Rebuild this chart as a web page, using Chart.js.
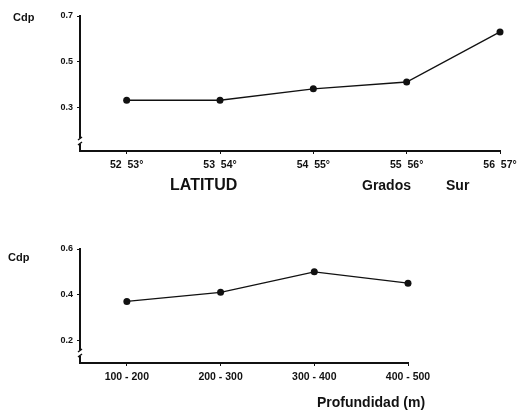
<!DOCTYPE html>
<html>
<head>
<meta charset="utf-8">
<script src="https://cdn.jsdelivr.net/npm/chart.js"></script>
<style>
  html, body { margin: 0; padding: 0; background: #fff; }
  #wrap { position: relative; width: 526px; height: 415px; }
  canvas { position: absolute; left: 0; }
</style>
</head>
<body>
<div id="wrap">
  <canvas id="latChart" width="526" height="200" style="top:0"></canvas>
  <canvas id="depthChart" width="526" height="215" style="top:200px"></canvas>
</div>
<script>
// datos
const latLabels = ['52  53°', '53  54°', '54  55°', '55  56°', '56  57°'];
const latCdp = [0.33, 0.33, 0.38, 0.41, 0.63];
const latTicksY = [0.3, 0.5, 0.7];

const depthLabels = ['100 - 200', '200 - 300', '300 - 400', '400 - 500'];
const depthCdp = [0.37, 0.41, 0.50, 0.45];
const depthTicksY = [0.2, 0.4, 0.6];

const FONT = "'Liberation Sans', Arial, sans-serif";

// textos sueltos + el corte del eje y
const extrasPlugin = {
  id: 'extras',
  afterDraw(chart, args, opts) {
    const ctx = chart.ctx;
    const a = chart.chartArea;
    ctx.save();
    // corte del eje
    ctx.fillStyle = '#fff';
    ctx.fillRect(a.left - 3, a.bottom - 13, 6, 6);
    ctx.strokeStyle = '#111';
    ctx.lineWidth = 1.5;
    ctx.beginPath();
    ctx.moveTo(a.left + 2, a.bottom - 14);
    ctx.lineTo(a.left - 2, a.bottom - 11);
    ctx.moveTo(a.left + 2, a.bottom - 9);
    ctx.lineTo(a.left - 2, a.bottom - 6);
    ctx.stroke();
    // textos
    ctx.fillStyle = '#111';
    ctx.textBaseline = 'middle';
    ctx.textAlign = 'left';
    (opts.texts || []).forEach(t => {
      ctx.font = 'bold ' + t.size + 'px ' + FONT;
      ctx.fillText(t.text, t.x, t.y);
    });
    ctx.restore();
  }
};

function makeChart(id, labels, values, yTicks, yMin, yMax, pad, xHeight, texts) {
  const ctx = document.getElementById(id).getContext('2d');
  return new Chart(ctx, {
    type: 'line',
    data: {
      datasets: [{
        data: values.map((v, i) => ({ x: i, y: v })),
        borderColor: '#111',
        borderWidth: 1.3,
        backgroundColor: '#111',
        pointRadius: 3.5,
        pointBackgroundColor: '#111',
        pointBorderWidth: 0,
        tension: 0,
        clip: false
      }]
    },
    options: {
      responsive: false,
      animation: false,
      layout: { padding: pad },
      plugins: {
        legend: { display: false },
        tooltip: { enabled: false },
        extras: { texts: texts }
      },
      scales: {
        x: {
          type: 'linear',
          min: -0.5,
          max: labels.length - 1,
          afterBuildTicks: s => { s.ticks = labels.map((l, i) => ({ value: i })); },
          afterFit: s => { s.height = xHeight; },
          grid: { drawOnChartArea: false, tickLength: 3, color: '#111' },
          border: { display: true, color: '#111', width: 2 },
          ticks: {
            autoSkip: false,
            maxRotation: 0,
            padding: 5,
            color: '#111',
            font: { family: FONT, size: 10.5, weight: 'bold' },
            callback: v => labels[v]
          }
        },
        y: {
          min: yMin,
          max: yMax,
          afterBuildTicks: s => { s.ticks = yTicks.map(v => ({ value: v })); },
          afterFit: s => { s.width = 80; },
          grid: { drawOnChartArea: false, tickLength: 3, color: '#111' },
          border: { display: true, color: '#111', width: 2 },
          ticks: {
            padding: 4,
            color: '#111',
            font: { family: FONT, size: 9, weight: 'bold' },
            callback: v => v.toFixed(1)
          }
        }
      }
    },
    plugins: [extrasPlugin]
  });
}

makeChart('latChart', latLabels, latCdp, latTicksY, 0.107, 0.7,
  { top: 16, left: 0, right: 26, bottom: 0 }, 49,
  [
    { text: 'Cdp', x: 13, y: 18, size: 11 },
    { text: 'LATITUD', x: 170, y: 186, size: 16 },
    { text: 'Grados', x: 362, y: 186, size: 14 },
    { text: 'Sur', x: 446, y: 186, size: 14 }
  ]);

makeChart('depthChart', depthLabels, depthCdp, depthTicksY, 0.1, 0.6,
  { top: 49, left: 0, right: 118, bottom: 0 }, 52,
  [
    { text: 'Cdp', x: 8, y: 58, size: 11 },
    { text: 'Profundidad (m)', x: 317, y: 203, size: 14 }
  ]);
</script>
</body>
</html>
